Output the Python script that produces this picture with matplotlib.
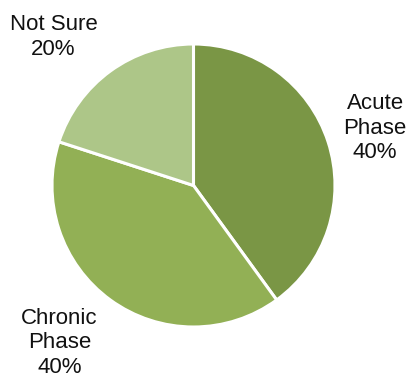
import matplotlib
matplotlib.use("Agg")
import matplotlib.pyplot as plt

categories = ["Acute\nPhase", "Chronic\nPhase", "Not Sure"]
values = [40, 40, 20]
colors = ["#7A9645", "#92B055", "#ADC688"]
label_pos = [(1.283, 0.406), (-0.946, -1.113), (-0.989, 1.049)]

plt.rcParams['font.family'] = ['Liberation Sans', 'DejaVu Sans']

fig = plt.figure(figsize=(4.07, 3.75), dpi=100)
ax = fig.add_axes([0, 0, 1, 1])
ax.pie(values, colors=colors, startangle=90, counterclock=False,
       wedgeprops=dict(edgecolor="white", linewidth=2.2), radius=1.0)
for cat, v, (x, y) in zip(categories, values, label_pos):
    ax.text(x, y, f"{cat}\n{v}%", ha="center", va="center", fontsize=16,
            linespacing=1.2, color="#111111")
ax.set_xlim(-193.5/141.5, (407-193.5)/141.5)
ax.set_ylim(-(375-185.5)/141.5, 185.5/141.5)
ax.set_aspect("auto")
ax.axis("off")
fig.savefig("out.png", dpi=100)
